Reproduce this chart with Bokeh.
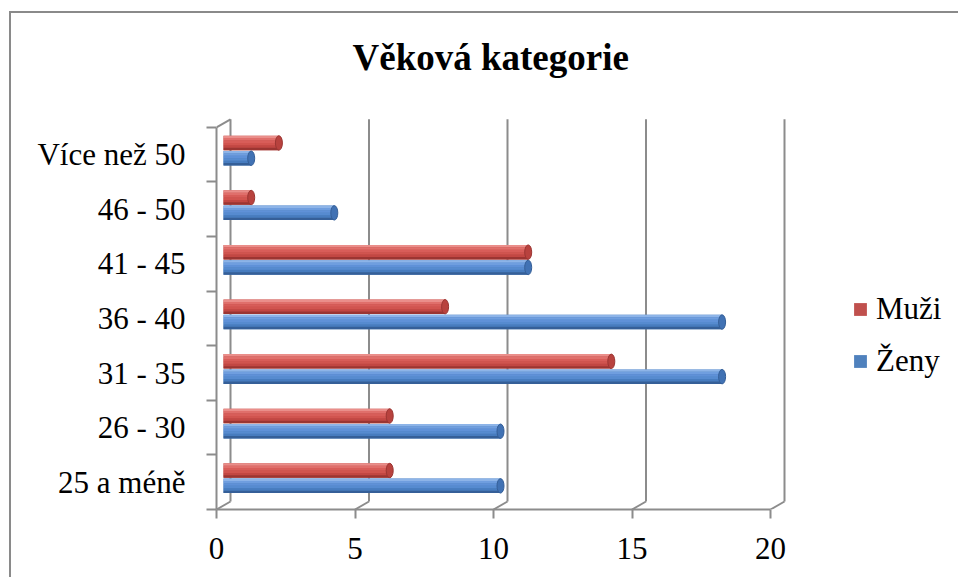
from bokeh.plotting import figure
from bokeh.models import Range1d, LinearAxis, FixedTicker, Legend, LegendItem
from bokeh.embed import file_html
from bokeh.resources import INLINE

# ---- data ----
categories = ["25 a méně", "26 - 30", "31 - 35", "36 - 40", "41 - 45", "46 - 50", "Více než 50"]
muzi = [6, 6, 14, 8, 11, 1, 2]
zeny = [10, 10, 18, 18, 11, 4, 1]
x_ticks = [0, 5, 10, 15, 20]
series_names = ["Muži", "Ženy"]
chart_title = "Věková kategorie"

# ---- geometry / style ----
PX_X = 27.7
PX_Y = 54.6
DX = 7 / PX_X      # half depth offset (x, data units)
DY = 4 / PX_Y      # half depth offset (y, data units)
FRAME_W = 744
FRAME_H = 411
FONT = "Liberation Serif"
GRID = "#8c8c8c"

x0 = -DX
x1 = x0 + FRAME_W / PX_X
y0 = -DY
y1 = y0 + FRAME_H / PX_Y
n = len(categories)

p = figure(width=949, height=566, x_range=Range1d(x0, x1), y_range=Range1d(y0, y1),
           output_backend="svg", toolbar_location=None,
           min_border_left=205, min_border_right=0, min_border_top=85, min_border_bottom=70,
           x_axis_type=None, y_axis_type=None)
p.extra_x_ranges = {"front": Range1d(x0 + DX, x1 + DX), "back": Range1d(x0 - DX, x1 - DX)}
p.extra_y_ranges = {"front": Range1d(y0 + DY, y1 + DY), "back": Range1d(y0 - DY, y1 - DY)}
p.outline_line_color = None
p.background_fill_color = "white"
p.border_fill_color = "white"
p.styles = {"border-left": "2px solid #8a8a8a", "border-top": "2px solid #8a8a8a",
            "margin-left": "9px", "margin-top": "11px"}

# back wall vertical gridlines
p.segment(x0=x_ticks, y0=[0] * len(x_ticks), x1=x_ticks, y1=[n] * len(x_ticks),
          x_range_name="back", y_range_name="back", line_color=GRID, line_width=2)
# depth diagonals (floor and top-left corner)
p.segment(x0=[t - DX for t in x_ticks], y0=[-DY] * len(x_ticks),
          x1=[t + DX for t in x_ticks], y1=[DY] * len(x_ticks),
          line_color=GRID, line_width=2)
p.segment(x0=[-DX], y0=[n - DY], x1=[DX], y1=[n + DY], line_color=GRID, line_width=2)

# bars (mid depth), cylinder shading via stripes
H = 0.265
pos_m = [i + 0.64 for i in range(n)]
pos_z = [i + 0.36 for i in range(n)]
red_stripes = ["#EA8E8A", "#E06F6B", "#D85D59", "#D1544F", "#C24743", "#9B3532"]
blue_stripes = ["#8DB4E8", "#6F9EDF", "#5F91D8", "#568BD0", "#477CBF", "#355F98"]

def draw_bar(pos, vals, base_color, stripes, cap_color):
    r = p.hbar(y=pos, left=0, right=vals, height=H, fill_color=base_color, line_color=None)
    k = len(stripes)
    sh = H / k
    for j, c in enumerate(stripes):
        off = H / 2 - sh * (j + 0.5)
        p.hbar(y=[q + off for q in pos], left=0, right=vals, height=sh * 1.02,
               fill_color=c, line_color=None)
    p.ellipse(x=vals, y=pos, width=7, width_units="screen", height=H,
              fill_color=cap_color, line_color=stripes[-1], line_width=1)
    return r

r_m = draw_bar(pos_m, muzi, "#C0504D", red_stripes, "#B8423E")
r_z = draw_bar(pos_z, zeny, "#4F81BD", blue_stripes, "#4172B4")

# front left (category) axis
yax = LinearAxis(y_range_name="front",
                 ticker=FixedTicker(ticks=[i + 0.5 for i in range(n)], minor_ticks=list(range(n + 1))),
                 bounds=(0, n))
yax.major_label_overrides = {i + 0.5: c for i, c in enumerate(categories)}
yax.axis_line_color = GRID
yax.axis_line_width = 2
yax.major_tick_line_color = None
yax.major_tick_out = 0
yax.major_tick_in = 0
yax.minor_tick_line_color = GRID
yax.minor_tick_line_width = 2
yax.minor_tick_out = 10
yax.minor_tick_in = 0
yax.major_label_standoff = 21
yax.major_label_text_font = FONT
yax.major_label_text_font_size = "31px"
yax.major_label_text_color = "black"
p.add_layout(yax, "left")

# front bottom (value) axis
xax = LinearAxis(x_range_name="front", ticker=FixedTicker(ticks=x_ticks, minor_ticks=[]),
                 bounds=(0, 20))
xax.axis_line_color = GRID
xax.axis_line_width = 2
xax.major_tick_line_color = GRID
xax.major_tick_line_width = 2
xax.major_tick_out = 9
xax.major_tick_in = 0
xax.minor_tick_line_color = None
xax.major_label_standoff = 19
xax.major_label_text_font = FONT
xax.major_label_text_font_size = "31px"
xax.major_label_text_color = "black"
p.add_layout(xax, "below")

# legend
legend = Legend(items=[LegendItem(label=series_names[0], renderers=[r_m]),
                       LegendItem(label=series_names[1], renderers=[r_z])],
                location=(636, 130), glyph_width=16, glyph_height=16, label_height=34,
                spacing=16, padding=0, margin=0, border_line_color=None,
                background_fill_alpha=0, label_text_font=FONT, label_text_font_size="31px",
                label_standoff=8, label_text_color="black")
p.add_layout(legend)

# title
p.title.text = chart_title
p.title.text_font = FONT
p.title.text_font_size = "37px"
p.title.text_font_style = "bold"
p.title.text_color = "black"
p.title.align = "left"
p.title.offset = 136
p.title.standoff = 41

open("out.html", "w").write(file_html(p, INLINE))
